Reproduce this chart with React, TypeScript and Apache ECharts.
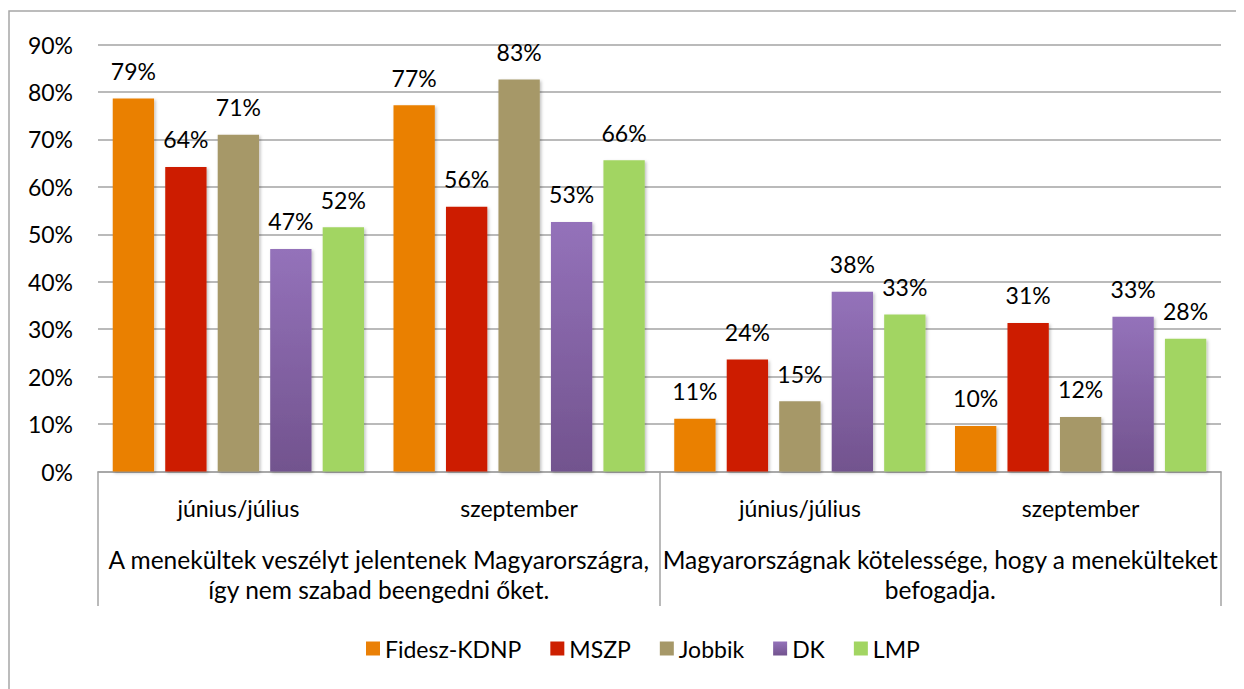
import React, { useEffect, useRef } from "react";
import * as echarts from "echarts";

const subCategories = ["június/július", "szeptember", "június/július", "szeptember"];
const mainCategories = [
  "A menekültek veszélyt jelentenek Magyarországra,\nígy nem szabad beengedni őket.",
  "Magyarországnak kötelessége, hogy a menekülteket\nbefogadja.",
];
const seriesNames = ["Fidesz-KDNP", "MSZP", "Jobbik", "DK", "LMP"];
const fideszValues = [78.6, 77.2, 11.1, 9.6];
const mszpValues = [64.2, 55.8, 23.6, 31.3];
const jobbikValues = [71.0, 82.6, 14.8, 11.5];
const dkValues = [46.9, 52.6, 37.9, 32.6];
const lmpValues = [51.5, 65.6, 33.1, 28.0];
const yTicks = { min: 0, max: 90, interval: 10 };

const FONT = "Lato";
const FS = 23;

export default function App() {
  const ref = useRef<HTMLDivElement>(null);
  useEffect(() => {
    if (!ref.current) return;
    const chart = echarts.init(ref.current, null, { renderer: "svg" });
    const dkGradient = new echarts.graphic.LinearGradient(0, 0, 0, 1, [
      { offset: 0, color: "#9472BA" },
      { offset: 1, color: "#72538E" },
    ]);
    const colors = ["#EA8006", "#CD1F00", "#A69868", dkGradient, "#A2D562"];
    const allValues = [fideszValues, mszpValues, jobbikValues, dkValues, lmpValues];
    const series = seriesNames.map((name, i) => ({
      name,
      type: "bar",
      data: allValues[i],
      barGap: "27%",
      barCategoryGap: "10.5%",
      itemStyle: {
        color: colors[i],
        shadowColor: "rgba(0,0,0,0.25)",
        shadowBlur: 3,
        shadowOffsetX: 1.5,
        shadowOffsetY: 1.5,
      },
      label: {
        show: true,
        position: "top",
        distance: 16,
        fontFamily: FONT,
        fontSize: FS,
        color: "#000",
        formatter: (p: any) => Math.round(p.value) + "%",
      },
    }));
    chart.setOption({
      animation: false,
      textStyle: { fontFamily: FONT },
      graphic: [
        {
          type: "rect",
          shape: { x: 1, y: 3, width: 1400, height: 900 },
          style: { fill: "none", stroke: "#A6A6A6", lineWidth: 1.5 },
          silent: true,
        },
      ],
      grid: { left: 90, right: 23, top: 36.5, bottom: 217.5, containLabel: false },
      legend: {
        data: seriesNames.map((n, i) =>
          i === 3 ? { name: n, itemStyle: { color: dkGradient } } : { name: n }
        ),
        left: 353,
        top: 624,
        itemWidth: 14,
        itemHeight: 14,
        itemGap: 29,
        icon: "rect",
        textStyle: { fontFamily: FONT, fontSize: FS, color: "#000" },
      },
      xAxis: [
        {
          type: "category",
          data: subCategories,
          position: "bottom",
          axisLine: { show: true, lineStyle: { color: "#A3A3A3", width: 1.5 } },
          axisTick: { show: false },
          axisLabel: {
            margin: 25,
            fontFamily: FONT,
            fontSize: FS,
            color: "#000",
            interval: 0,
          },
        },
        {
          type: "category",
          data: mainCategories,
          position: "bottom",
          offset: 0,
          axisLine: { show: false },
          axisTick: {
            show: true,
            inside: false,
            length: 134.5,
            lineStyle: { color: "#A3A3A3", width: 1.5 },
          },
          axisLabel: {
            margin: 73,
            fontFamily: FONT,
            fontSize: 24.5,
            lineHeight: 30,
            color: "#000",
            align: "center",
            interval: 0,
          },
        },
      ],
      yAxis: {
        type: "value",
        min: yTicks.min,
        max: yTicks.max,
        interval: yTicks.interval,
        axisLine: { show: false },
        axisTick: { show: false },
        axisLabel: {
          formatter: "{value}%",
          margin: 25,
          fontFamily: FONT,
          fontSize: FS,
          color: "#000",
        },
        splitLine: { lineStyle: { color: "#A3A3A3", width: 1.5 } },
      },
      series,
    });
    return () => chart.dispose();
  }, []);
  return <div ref={ref} style={{ width: 1236, height: 681 }} />;
}
